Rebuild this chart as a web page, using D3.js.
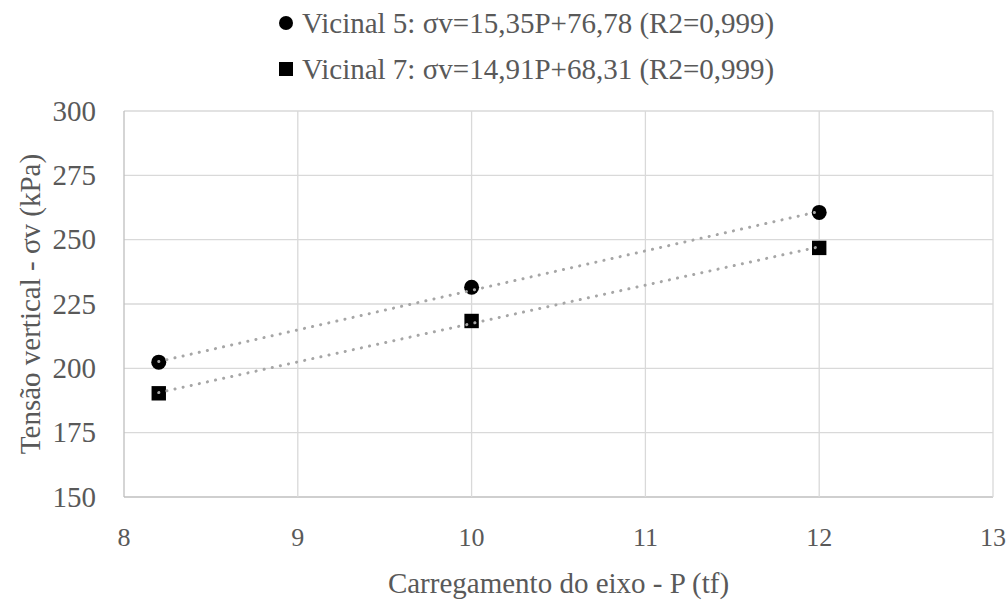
<!DOCTYPE html>
<html>
<head>
<meta charset="utf-8">
<script src="https://cdn.jsdelivr.net/npm/d3@7"></script>
<style>
  body { margin: 0; background: #fff; }
</style>
</head>
<body>
<script>
// axle load (tf)
var loads = [8.2, 10, 12];
var vicinal5 = [202.4, 231.5, 260.6];
var vicinal7 = [190.3, 218.4, 246.8];
var seriesNames = ["Vicinal 5: σv=15,35P+76,78 (R2=0,999)", "Vicinal 7: σv=14,91P+68,31 (R2=0,999)"];
// trendline coefficients from the legend
var slopes = [15.35, 14.91];
var intercepts = [76.78, 68.31];
var xTicks = [8, 9, 10, 11, 12, 13];
var yTicks = [150, 175, 200, 225, 250, 275, 300];

var w = 1007, h = 602;
var margin = {left: 124, right: 14, top: 111, bottom: 105};
var font = "'Liberation Serif'";
var fontSize = "29px";
var textColor = "#595959";

var svg = d3.select("body").append("svg")
    .attr("width", w)
    .attr("height", h);

var x = d3.scaleLinear().domain([8, 13]).range([margin.left, w - margin.right]);
var y = d3.scaleLinear().domain([150, 300]).range([h - margin.bottom, margin.top]);

// helper so every label gets the same font
function label(sel) {
    return sel.attr("font-family", font)
        .attr("fill", textColor)
        .style("font-size", fontSize);
}

// gridlines
svg.append("g").selectAll("line.h")
    .data(yTicks).enter().append("line")
    .attr("x1", x(8)).attr("x2", x(13))
    .attr("y1", function(d) { return y(d); }).attr("y2", function(d) { return y(d); })
    .attr("stroke", function(d) { return d == 150 ? "#bfbfbf" : "#d9d9d9"; })
    .attr("stroke-width", 1.3);

svg.append("g").selectAll("line.v")
    .data(xTicks).enter().append("line")
    .attr("y1", y(150)).attr("y2", y(300))
    .attr("x1", function(d) { return x(d); }).attr("x2", function(d) { return x(d); })
    .attr("stroke", function(d) { return d == 8 ? "#bfbfbf" : "#d9d9d9"; })
    .attr("stroke-width", 1.3);

// tick labels (x ones a bit smaller so "13" fits at the edge)
svg.append("g").selectAll("text")
    .data(xTicks).enter().append("text")
    .attr("x", function(d) { return x(d); })
    .attr("y", y(150) + 49)
    .attr("text-anchor", "middle")
    .call(label)
    .style("font-size", "26px")
    .text(function(d) { return d; });

svg.append("g").selectAll("text")
    .data(yTicks).enter().append("text")
    .attr("x", 96)
    .attr("y", function(d) { return y(d) + 9.5; })
    .attr("text-anchor", "end")
    .call(label)
    .text(function(d) { return d; });

// axis titles
svg.append("text")
    .attr("x", (x(8) + x(13)) / 2)
    .attr("y", 593)
    .attr("text-anchor", "middle")
    .call(label)
    .text("Carregamento do eixo - P (tf)");

svg.append("text")
    .attr("transform", "translate(40," + ((y(150) + y(300)) / 2) + ") rotate(-90)")
    .attr("text-anchor", "middle")
    .call(label)
    .text("Tensão vertical - σv (kPa)");

var series = [vicinal5, vicinal7];

// markers
var pts5 = loads.map(function(p, i) { return [p, vicinal5[i]]; });
var pts7 = loads.map(function(p, i) { return [p, vicinal7[i]]; });

svg.append("g").selectAll("circle")
    .data(pts5).enter().append("circle")
    .attr("cx", function(d) { return x(d[0]); })
    .attr("cy", function(d) { return y(d[1]); })
    .attr("r", 7.5)
    .attr("fill", "#000");

svg.append("g").selectAll("rect")
    .data(pts7).enter().append("rect")
    .attr("x", function(d) { return x(d[0]) - 7.2; })
    .attr("y", function(d) { return y(d[1]) - 7.2; })
    .attr("width", 14.4)
    .attr("height", 14.4)
    .attr("fill", "#000");

// linear trendlines, drawn over the markers
var line = d3.line()
    .x(function(d) { return x(d[0]); })
    .y(function(d) { return y(d[1]); });

series.forEach(function(s, k) {
    var ends = [d3.min(loads), d3.max(loads)].map(function(p) {
        return [p, slopes[k] * p + intercepts[k]];
    });
    svg.append("path")
        .datum(ends)
        .attr("d", line)
        .attr("fill", "none")
        .attr("stroke", "#a6a6a6")
        .attr("stroke-width", 3)
        .attr("stroke-linecap", "round")
        .attr("stroke-dasharray", "0.1 8.2");
});

// legend
var legend = svg.append("g").attr("transform", "translate(286,0)");

legend.append("circle")
    .attr("cx", 0).attr("cy", 23).attr("r", 7)
    .attr("fill", "#000");
legend.append("rect")
    .attr("x", -7).attr("y", 62).attr("width", 14).attr("height", 14)
    .attr("fill", "#000");

legend.selectAll("text")
    .data(seriesNames).enter().append("text")
    .attr("x", 16)
    .attr("y", function(d, i) { return 32.5 + i * 46; })
    .call(label)
    .text(function(d) { return d; });
</script>
</body>
</html>
